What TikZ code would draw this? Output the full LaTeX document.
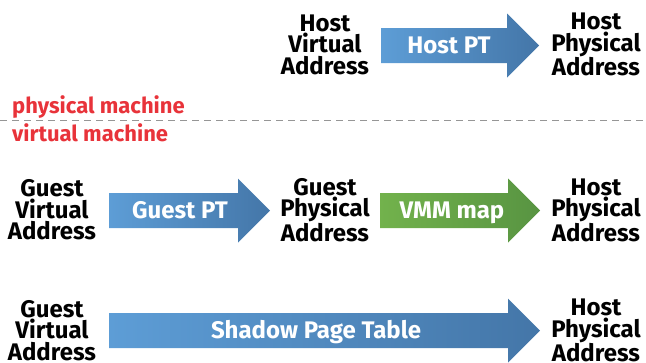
\documentclass[tikz,border=0pt]{standalone}
\usepackage{fontspec}
\setmainfont{Fira Sans}
\usetikzlibrary{calc}
\definecolor{ptblueL}{RGB}{93,157,214}
\definecolor{ptblueR}{RGB}{68,118,168}
\definecolor{mapgreenL}{RGB}{114,178,76}
\definecolor{mapgreenR}{RGB}{88,148,66}
\definecolor{vmred}{RGB}{232,51,58}
\definecolor{splitgray}{RGB}{150,150,150}

% block arrow: style, start, tip
\newcommand{\blockarrow}[3]{%
  \path[#1] let \p1=#2, \p2=#3 in
    (\x1,\y1+17.5pt) -- (\x2-32pt,\y1+17.5pt) -- (\x2-32pt,\y1+32pt) -- (\x2,\y1)
    -- (\x2-32pt,\y1-32pt) -- (\x2-32pt,\y1-17.5pt) -- (\x1,\y1-17.5pt) -- cycle;
}

\tikzset{
  addr/.style={align=center, inner sep=0pt, font=\bfseries\fontsize{24}{21.5}\selectfont},
  arrowtext/.style={anchor=base, inner sep=0pt, text=white, font=\bfseries\fontsize{24}{21.5}\selectfont},
  machine/.style={anchor=base west, inner sep=0pt, text=vmred, font=\bfseries\fontsize{22}{22}\selectfont},
  bluefill/.style={left color=ptblueL, right color=ptblueR, draw=none},
  greenfill/.style={left color=mapgreenL, right color=mapgreenR, draw=none}
}

\begin{document}
\begin{tikzpicture}[x=1pt,y=-1pt]
  \useasboundingbox (0,0) rectangle (646,362);

  % physical machine
  \node[addr] (hva) at (325,44.5) {Host\\Virtual\\Address};
  \node[addr] (hpa1) at (596,44.5) {Host\\Physical\\Address};
  \coordinate (hpt-s) at (381,45.5);
  \coordinate (hpt-e) at (539,45.5);
  \blockarrow{bluefill}{(hpt-s)}{(hpt-e)}
  \node[arrowtext] (hpt) at (449,53.5) {Host PT};

  % split line
  \node[machine] (pm) at (12,113) {physical machine};
  \node[machine] (vm) at (12,141) {virtual machine};
  \coordinate (split-l) at (0,120.5);
  \coordinate (split-r) at (646,120.5);
  \draw[splitgray, line width=0.8pt, dash pattern=on 7pt off 5pt] (split-l) -- (split-r);

  % two stage walk
  \node[addr] (gva1) at (52,210) {Guest\\Virtual\\Address};
  \node[addr] (gpa) at (325,210) {Guest\\Physical\\Address};
  \node[addr] (hpa2) at (596,210) {Host\\Physical\\Address};
  \coordinate (gpt-s) at (109,210.5);
  \coordinate (gpt-e) at (270,210.5);
  \blockarrow{bluefill}{(gpt-s)}{(gpt-e)}
  \node[arrowtext] (gpt) at (180,218.5) {Guest PT};
  \coordinate (vmm-s) at (380,210.5);
  \coordinate (vmm-e) at (540,210.5);
  \blockarrow{greenfill}{(vmm-s)}{(vmm-e)}
  \node[arrowtext] (vmm) at (452,218.5) {VMM map};

  % shadow paging
  \node[addr] (gva2) at (52,330.5) {Guest\\Virtual\\Address};
  \node[addr] (hpa3) at (596,330.5) {Host\\Physical\\Address};
  \coordinate (spt-s) at (109,330.5);
  \coordinate (spt-e) at (540,330.5);
  \blockarrow{bluefill}{(spt-s)}{(spt-e)}
  \node[arrowtext] (spt) at (316,338.5) {Shadow Page Table};
\end{tikzpicture}
\end{document}
